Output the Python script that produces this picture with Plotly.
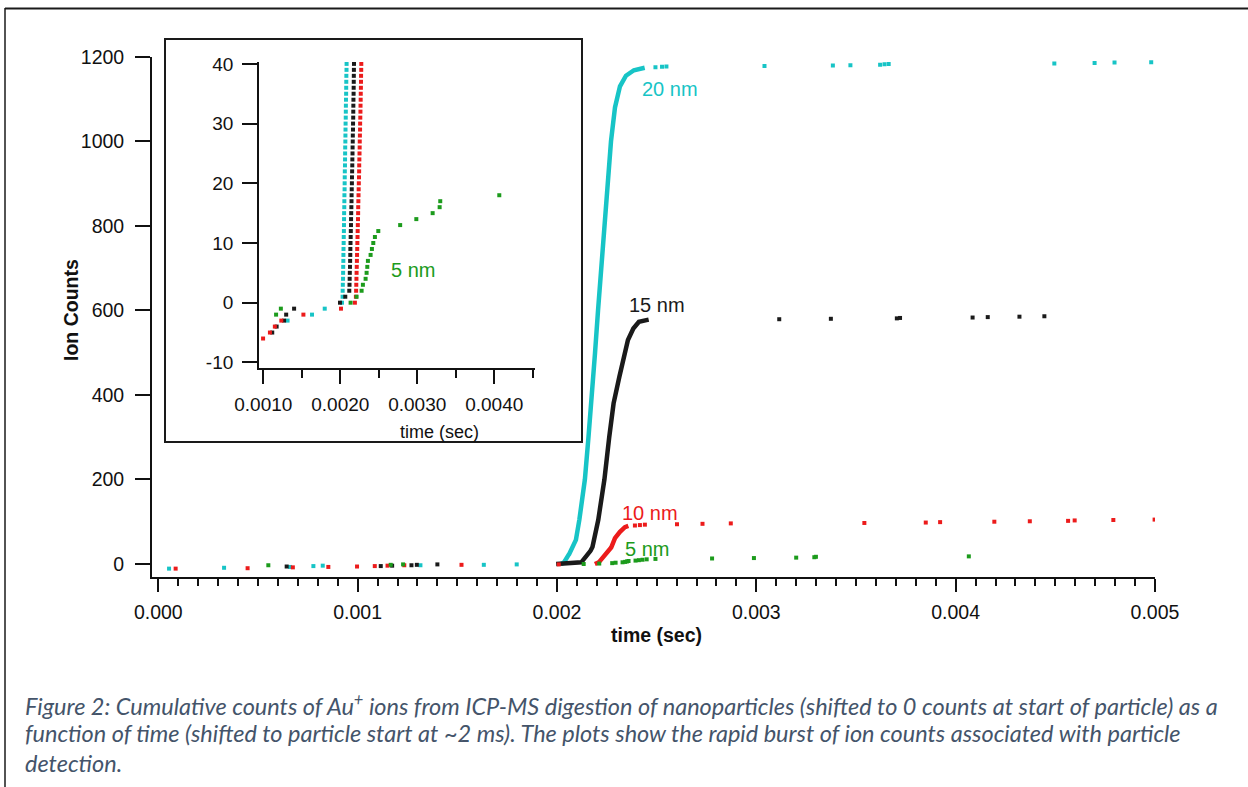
import numpy as np
import plotly.graph_objects as go

# ---------------------------------------------------------------------------
# Cumulative Au+ ion counts vs. time (ms) for 5, 10, 15 and 20 nm particles
# ---------------------------------------------------------------------------

# isolated detection events (before and after the particle burst)
cyan_event_ms = [0.054, 0.330, 0.661, 0.778, 0.825, 1.315, 1.633, 1.798,
                 2.494, 2.527, 2.549, 3.041, 3.384, 3.472, 3.621, 3.643,
                 3.664, 4.495, 4.697, 4.797, 4.981]
cyan_event_n = [-11, -9, -7, -5, -4, -3, -2, -1,
                1175, 1176, 1177, 1178, 1179, 1180, 1181, 1182,
                1183, 1184, 1185, 1186, 1187]

black_event_ms = [0.644, 1.116, 1.173, 1.270, 1.297, 1.400,
                  3.115, 3.374, 3.705, 3.721, 4.085, 4.161, 4.320, 4.445]
black_event_n = [-6, -5, -4, -3, -2, -1,
                 579, 580, 581, 582, 583, 584, 585, 586]

red_event_ms = [0.087, 0.448, 0.675, 0.853, 0.997, 1.086, 1.150, 1.234,
                1.521, 2.009, 2.391, 2.416, 2.441, 2.602, 2.730, 2.872,
                3.542, 3.850, 3.922, 4.194, 4.372, 4.564, 4.597, 4.791,
                4.998]
red_event_n = [-11, -10, -8, -7, -6, -5, -4, -3,
               -2, -1, 91, 92, 93, 94, 95, 96,
               97, 98, 99, 100, 101, 102, 103, 104,
               105]

green_event_ms = [0.552, 1.166, 1.228, 2.134, 2.212, 2.277, 2.294, 2.329,
                  2.342, 2.351, 2.359, 2.394, 2.411, 2.429, 2.450, 2.494,
                  2.778, 2.988, 3.200, 3.291, 3.299, 4.066]
green_event_n = [-3, -2, -1, 0, 1, 2, 3, 4,
                 5, 6, 7, 8, 9, 10, 11, 12,
                 13, 14, 15, 16, 17, 18]

# burst onset: one time per count (first 40 counts)
cyan_onset_ms = [2.022, 2.030, 2.031, 2.033, 2.036, 2.037, 2.038, 2.040, 2.041,
                 2.042, 2.044, 2.045, 2.047, 2.048, 2.049, 2.050, 2.052,
                 2.053, 2.054, 2.056, 2.057, 2.058, 2.059, 2.061, 2.062,
                 2.063, 2.064, 2.066, 2.067, 2.068, 2.069, 2.071, 2.072,
                 2.073, 2.074, 2.076, 2.077, 2.078, 2.079, 2.081, 2.082]
black_onset_ms = [1.996, 2.065, 2.117, 2.120, 2.122, 2.124, 2.126, 2.128,
                  2.130, 2.131, 2.133, 2.135, 2.137, 2.139, 2.140, 2.142,
                  2.144, 2.146, 2.147, 2.149, 2.151, 2.152, 2.154, 2.156,
                  2.157, 2.159, 2.160, 2.162, 2.163, 2.165, 2.166, 2.168,
                  2.169, 2.170, 2.171, 2.173, 2.174, 2.175, 2.176, 2.177,
                  2.178]
red_onset_ms = [2.190, 2.203, 2.206, 2.208, 2.210, 2.212, 2.214, 2.216,
                2.218, 2.220, 2.222, 2.224, 2.226, 2.228, 2.230, 2.232,
                2.233, 2.235, 2.237, 2.239, 2.241, 2.243, 2.245, 2.246,
                2.248, 2.250, 2.252, 2.253, 2.255, 2.257, 2.258, 2.260,
                2.262, 2.263, 2.265, 2.266, 2.268, 2.269, 2.270, 2.272,
                2.273]
onset_n = list(range(0, 41))

# remainder of each burst (dense counts)
cyan_rise_ms = [2.095, 2.112, 2.140, 2.158, 2.176, 2.191, 2.206, 2.221,
                2.236, 2.251, 2.271, 2.291, 2.316, 2.346, 2.386, 2.440]
cyan_rise_n = [57, 104, 200, 300, 400, 500, 600, 700,
               800, 900, 1000, 1080, 1130, 1155, 1168, 1174]

black_rise_ms = [2.207, 2.238, 2.262, 2.284, 2.313, 2.335, 2.356, 2.383,
                 2.411, 2.460]
black_rise_n = [104, 200, 300, 380, 443, 490, 530, 557, 573, 578]

red_rise_ms = [2.291, 2.316, 2.341, 2.358]
red_rise_n = [61, 76, 87, 90]

CYAN, BLACK, RED, GREEN = "#17c4c6", "#1a1a1a", "#ec1b1b", "#1c9b1c"

series = [
    # name, colour, onset, rise, events
    ("20 nm", CYAN, cyan_onset_ms, cyan_rise_ms, cyan_rise_n,
     cyan_event_ms, cyan_event_n),
    ("15 nm", BLACK, black_onset_ms, black_rise_ms, black_rise_n,
     black_event_ms, black_event_n),
    ("10 nm", RED, red_onset_ms, red_rise_ms, red_rise_n,
     red_event_ms, red_event_n),
]

W, H = 1248, 787


def px(x):
    return x / W


def py(y):
    return 1 - y / H


FONT = "Liberation Sans, Arial, sans-serif"
INK = "#111111"


def squares(col):
    return dict(symbol="square", size=4, color=col, line=dict(width=0))


fig = go.Figure()

# main panel: bursts as thick traces, isolated events as small squares
for name, col, onset, rise_t, rise_n, ev_t, ev_n in series:
    if len(onset) != len(onset_n) or len(rise_t) != len(rise_n) or len(ev_t) != len(ev_n):
        raise ValueError(name)
    burst_t = np.array(onset + rise_t) / 1000.0
    burst_n = onset_n + rise_n
    ev_s = np.array(ev_t) / 1000.0
    fig.add_trace(go.Scatter(x=burst_t, y=burst_n, mode="lines",
                             line=dict(color=col, width=4.5),
                             xaxis="x", yaxis="y", hoverinfo="skip"))
    fig.add_trace(go.Scatter(x=ev_s, y=ev_n, mode="markers",
                             marker=squares(col),
                             xaxis="x", yaxis="y", hoverinfo="skip"))
    # inset: every count drawn as a square
    fig.add_trace(go.Scatter(x=burst_t, y=burst_n, mode="markers",
                             marker=squares(col),
                             xaxis="x2", yaxis="y2", hoverinfo="skip"))
    fig.add_trace(go.Scatter(x=ev_s, y=ev_n, mode="markers",
                             marker=squares(col),
                             xaxis="x2", yaxis="y2", hoverinfo="skip"))

if len(green_event_ms) != len(green_event_n):
    raise ValueError("5 nm")
green_t = np.array(green_event_ms) / 1000.0
for xa, ya in (("x", "y"), ("x2", "y2")):
    fig.add_trace(go.Scatter(x=green_t, y=green_event_n, mode="markers",
                             marker=squares(GREEN),
                             xaxis=xa, yaxis=ya, hoverinfo="skip"))

tick_font = dict(family=FONT, size=19.5, color=INK)
inset_font = dict(family=FONT, size=19, color=INK)

common = dict(automargin=False, showgrid=False, zeroline=False)
main_x_rng = [-0.0000316, 0.005]
fig.update_layout(
    width=W, height=H,
    margin=dict(l=0, r=0, t=0, b=0, pad=0),
    paper_bgcolor="white", plot_bgcolor="rgba(0,0,0,0)",
    showlegend=False,
    xaxis=dict(domain=[px(152), px(1155)], range=main_x_rng, anchor="y",
               showline=True, linecolor=INK, linewidth=1.8,
               ticks="outside", ticklen=13, tickwidth=1.6, tickcolor=INK,
               tickvals=[0, 0.001, 0.002, 0.003, 0.004, 0.005],
               ticktext=["0.000", "0.001", "0.002", "0.003", "0.004", "0.005"],
               tickfont=tick_font, ticklabelstandoff=4,
               minor=dict(ticks="outside", ticklen=7, tickwidth=1.6,
                          tickcolor=INK, dtick=0.0001, tick0=0, showgrid=False),
               **common),
    xaxis3=dict(overlaying="x", anchor="y", range=main_x_rng,
                showline=False,
                ticks="outside", ticklen=10, tickwidth=1.6, tickcolor=INK,
                tickvals=[0.0005, 0.0015, 0.0025, 0.0035, 0.0045],
                showticklabels=False, **common),
    yaxis=dict(domain=[py(577), py(56.7)], range=[-30.8, 1200], anchor="x",
               showline=True, linecolor=INK, linewidth=1.8,
               ticks="outside", ticklen=15, tickwidth=1.6, tickcolor=INK,
               tickvals=[0, 200, 400, 600, 800, 1000, 1200],
               tickfont=tick_font, ticklabelstandoff=7,
               **common),
    xaxis2=dict(domain=[px(259), px(535)], range=[0.000944, 0.00453],
                anchor="y2",
                showline=True, linecolor=INK, linewidth=1.8,
                ticks="outside", ticklen=14, tickwidth=1.6, tickcolor=INK,
                tickvals=[0.001, 0.002, 0.003, 0.004],
                ticktext=["0.0010", "0.0020", "0.0030", "0.0040"],
                tickfont=inset_font, ticklabelstandoff=4,
                minor=dict(ticks="outside", ticklen=8, tickwidth=1.6,
                           tickcolor=INK, dtick=0.0005, tick0=0,
                           showgrid=False),
                **common),
    yaxis2=dict(domain=[py(368), py(62.1)], range=[-10.94, 40.3],
                anchor="x2",
                showline=True, linecolor=INK, linewidth=1.8,
                ticks="outside", ticklen=15, tickwidth=1.6, tickcolor=INK,
                tickvals=[-10, 0, 10, 20, 30, 40],
                ticktext=["-10", "0", "10", "20", "30", "40"],
                tickfont=inset_font, ticklabelstandoff=5,
                **common),
)

shapes = [
    # inset frame
    dict(type="rect", xref="paper", yref="paper",
         x0=px(165), x1=px(582), y0=py(442), y1=py(39),
         line=dict(color="#1a1a1a", width=2), layer="above"),
    # page border
    dict(type="line", xref="paper", yref="paper",
         x0=px(5), x1=1, y0=py(8.5), y1=py(8.5),
         line=dict(color="#1a1a1a", width=2)),
    dict(type="line", xref="paper", yref="paper",
         x0=px(5), x1=px(5), y0=py(8), y1=0,
         line=dict(color="#1a1a1a", width=1.5)),
]
fig.update_layout(shapes=shapes)

ann = []
label_font = dict(family=FONT, size=20)
# curve labels on the main panel
for text, col, t, n in (("20 nm", CYAN, 0.002567, 1124),
                        ("15 nm", BLACK, 0.002502, 613),
                        ("10 nm", RED, 0.002467, 121),
                        ("5 nm", GREEN, 0.002452, 35)):
    ann.append(dict(x=t, y=n, xref="x", yref="y", text=text, showarrow=False,
                    xanchor="center", yanchor="middle",
                    font=dict(label_font, color=col)))
ann.append(dict(x=0.0029442, y=5.5, xref="x2", yref="y2", text="5 nm",
                showarrow=False, xanchor="center", yanchor="middle",
                font=dict(label_font, color=GREEN)))

# axis titles
ann.append(dict(x=px(656), y=py(648), xref="paper", yref="paper",
                text="<b>time (sec)</b>", showarrow=False,
                font=dict(family=FONT, size=19.5, color=INK)))
ann.append(dict(x=px(58), y=py(310), xref="paper", yref="paper",
                text="<b>Ion Counts</b>", showarrow=False, textangle=-90,
                font=dict(family=FONT, size=19.5, color=INK)))
ann.append(dict(x=px(398), y=py(432), xref="paper", yref="paper",
                text="time (sec)", showarrow=False,
                font=dict(family=FONT, size=18, color=INK)))

# figure caption
caption = [
    "Figure 2: Cumulative counts of Au<sup>+</sup> ions from ICP-MS digestion of "
    "nanoparticles (shifted to 0 counts at start of particle) as a",
    "function of time (shifted to particle start at ~2 ms). The plots show the "
    "rapid burst of ion counts associated with particle",
    "detection.",
]
for i, line in enumerate(caption):
    ann.append(dict(x=px(23), y=py(704 + 29.3 * i), xref="paper", yref="paper",
                    text="<i>" + line + "</i>", showarrow=False,
                    xanchor="left", yanchor="middle", align="left",
                    font=dict(family="Lato, Carlito, sans-serif", size=23.5,
                              color="#44546a")))

fig.update_layout(annotations=ann)

fig.write_html("out.html")
